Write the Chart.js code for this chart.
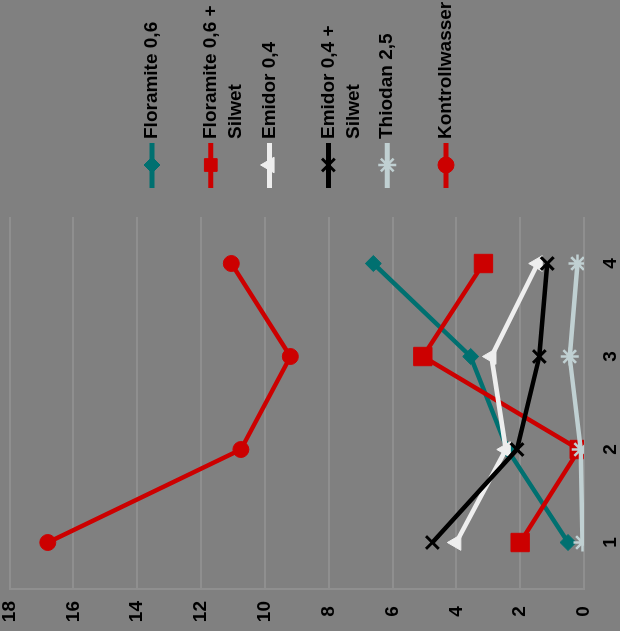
<!DOCTYPE html>
<html>
<head>
<meta charset="utf-8">
<script src="https://cdn.jsdelivr.net/npm/chart.js@4.4.1/dist/chart.umd.min.js"></script>
<style>
  html, body { margin: 0; padding: 0; background: #808080; overflow: hidden; }
  /* chart is drawn upright, then the whole box is turned 90° to the left */
  #wrap { position: absolute; left: 0; top: 0; width: 631px; height: 620px;
          transform-origin: 0 0; transform: translateY(631px) rotate(-90deg); }
</style>
</head>
<body>
<div id="wrap"><canvas id="c" width="631" height="620"></canvas></div>
<script>
// Daten
const categories = ["1", "2", "3", "4"];
const valueTicks = [0, 2, 4, 6, 8, 10, 12, 14, 16, 18];
const seriesNames = [
  ["Floramite 0,6"],
  ["Floramite 0,6 +", "Silwet"],
  ["Emidor 0,4"],
  ["Emidor 0,4 +", "Silwet"],
  ["Thiodan 2,5"],
  ["Kontrollwasser"],
];
const floramite       = [0.5, 2.4, 3.55, 6.6];
const floramiteSilwet = [2.0, 0.15, 5.05, 3.15];
const emidor          = [4.0, 2.45, 2.9, 1.45];
const emidorSilwet    = [4.75, 2.1, 1.4, 1.15];
const thiodan         = [0.05, 0.1, 0.45, 0.2];
const kontrolle       = [16.8, 10.75, 9.2, 11.05];

const FONT = { family: '"Liberation Sans", Arial, sans-serif', size: 19, weight: "bold", lineHeight: 1 };

const styles = [
  { color: "#007070", point: "rectRot",  r: 8,  bw: 1 },
  { color: "#cc0000", point: "rect",     r: 13, bw: 1 },
  { color: "#eeeeee", point: "triangle", r: 9,  bw: 1 },
  { color: "#000000", point: "crossRot", r: 9,  bw: 3 },
  { color: "#c0d0d2", point: "star",     r: 9,  bw: 2.5 },
  { color: "#cc0000", point: "circle",   r: 8,  bw: 1 },
];
const values = [floramite, floramiteSilwet, emidor, emidorSilwet, thiodan, kontrolle];

const datasets = values.map((v, i) => ({
  label: seriesNames[i].join(" "),
  data: v,
  borderColor: styles[i].color,
  backgroundColor: styles[i].color,
  pointBackgroundColor: styles[i].color,
  pointBorderColor: styles[i].color,
  pointStyle: styles[i].point,
  pointRadius: styles[i].r,
  pointBorderWidth: styles[i].bw,
  borderWidth: 4.5,
  tension: 0,
  order: values.length - i, // spätere Reihen oben, wie in Excel
}));

// Legende rechts (nach dem Drehen oben)
const sideLegend = {
  id: "sideLegend",
  afterDraw(chart) {
    const ctx = chart.ctx;
    chart.data.datasets.forEach((ds, i) => {
      const y = 152 + i * 58.8;
      ctx.save();
      ctx.strokeStyle = ds.borderColor;
      ctx.lineWidth = 5;
      ctx.beginPath(); ctx.moveTo(443, y); ctx.lineTo(488, y); ctx.stroke();
      ctx.fillStyle = ds.pointBackgroundColor;
      ctx.strokeStyle = ds.pointBorderColor;
      ctx.lineWidth = ds.pointBorderWidth;
      Chart.helpers.drawPoint(ctx, { pointStyle: ds.pointStyle, radius: Math.min(ds.pointRadius, 9), borderWidth: ds.pointBorderWidth, rotation: 0 }, 466, y);
      ctx.fillStyle = "#000";
      ctx.font = `bold ${FONT.size}px ${FONT.family}`;
      ctx.textAlign = "left";
      ctx.textBaseline = "middle";
      seriesNames[i].forEach((line, k) => ctx.fillText(line, 492, y + k * 25));
      ctx.restore();
    });
  },
};

new Chart(document.getElementById("c"), {
  type: "line",
  data: { labels: categories, datasets },
  plugins: [sideLegend],
  options: {
    responsive: false,
    animation: false,
    devicePixelRatio: 1,
    layout: { autoPadding: false, padding: { top: 0, right: 217, bottom: 0, left: 0 } },
    plugins: { legend: { display: false }, tooltip: { enabled: false } },
    scales: {
      x: {
        offset: true,
        grid: { display: false, drawTicks: false },
        border: { display: false },
        ticks: { color: "#000", font: FONT, padding: 17, maxRotation: 0 },
        afterFit: (s) => { s.height = 36; },
      },
      y: {
        min: 0, max: 18,
        afterBuildTicks: (s) => { s.ticks = valueTicks.map((v) => ({ value: v })); },
        grid: { color: "#8f8f8f", lineWidth: 2, drawTicks: false },
        border: { color: "#8f8f8f", width: 2 },
        ticks: { color: "#000", font: FONT, padding: 12, crossAlign: "center" },
        afterFit: (s) => { s.width = 42; s.paddingTop = 9.5; s.paddingBottom = 0; },
      },
    },
  },
});
</script>
</body>
</html>
